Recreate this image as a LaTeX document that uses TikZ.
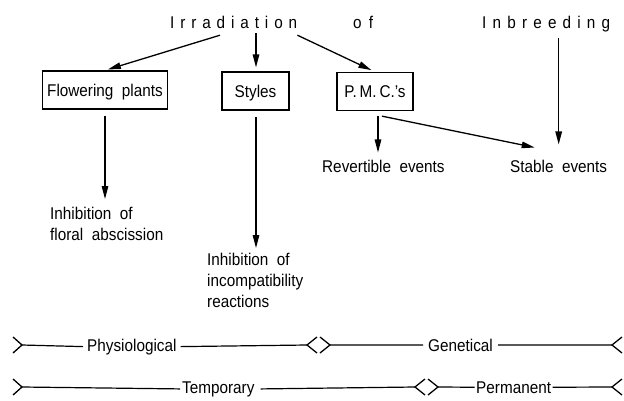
\documentclass[tikz,border=0pt]{standalone}
\usepackage{fontspec}
\setmainfont{Liberation Sans}[FakeStretch=0.9]
\usetikzlibrary{arrows.meta}
\tikzset{
  txt/.style={font=\fontsize{17}{21}\selectfont, inner sep=0pt},
  spread/.style={txt, anchor=base west, text depth=0pt},
  boxn/.style={txt, draw, line width=1.3pt, minimum height=38pt, text height=12pt, text depth=0pt},
  arr/.style={-{Triangle[length=13pt,width=6.5pt]}, line width=1.3pt},
  bar/.style={line width=1.2pt},
  chev/.style={line width=1.3pt, line join=miter},
  lineword/.style={txt, anchor=base west, inner xsep=4pt}
}
\begin{document}
\begin{tikzpicture}[x=1pt,y=-1pt]
\useasboundingbox (0,0) rectangle (624,400);

% top labels
\node[spread] (irr) at (170,28) {\makebox[127pt][s]{I r r a d i a t i o n}};
\node[spread] (of)  at (353,28) {\makebox[20pt][s]{o f}};
\node[spread] (inb) at (482,28) {\makebox[128pt][s]{I n b r e e d i n g}};

% boxes
\node[boxn, minimum width=125pt] (fp)  at (105,90)   {Flowering\ \ plants};
\node[boxn, minimum width=67pt]  (sty) at (255.5,91) {Styles};
\node[boxn, minimum width=76pt]  (pmc) at (375,91.5) {P.\,M.\,C.\textquoteright s};

% result labels
\node[txt, anchor=north west, align=left] (inh1) at (50,207) {Inhibition\ \ of\\floral\ \ abscission};
\node[txt, anchor=north west, align=left] (inh2) at (207,253) {Inhibition\ \ of\\incompatibility\\reactions};
\node[txt, anchor=base west] (rev)  at (322,172) {Revertible\ \ events};
\node[txt, anchor=base west] (stab) at (510,172) {Stable\ \ events};

% arrows
\draw[arr, shorten >=3pt] ([shift={(50,7)}]irr.south west) -- (fp.north);
\draw[arr, shorten >=4pt] ([shift={(86,5)}]irr.south west) -- ([xshift=0.5pt]sty.north);
\draw[arr, shorten >=4pt] ([shift={(0,7)}]irr.south east) -- (pmc.north);
\draw[arr, shorten <=6pt, shorten >=8pt] (fp.south) -- (fp.south |- inh1.north);
\draw[arr, shorten <=6pt, shorten >=5pt] ([xshift=0.5pt]sty.south) -- ([xshift=0.5pt]sty.south |- inh2.north);
\draw[arr, shorten <=5pt, shorten >=7pt] ([xshift=3pt]pmc.south) -- ([xshift=3pt]pmc.south |- rev.north);
\draw[arr] ([shift={(7,5)}]pmc.south) -- ([shift={(-24,-12)}]stab.north);
\draw[arr, shorten <=10pt, shorten >=15pt] (inb.south -| stab.north) -- (stab.north);

% bottom scale lines
\coordinate (a1) at (22,345);
\coordinate (m1l) at (307,345);
\coordinate (m1r) at (330,345);
\coordinate (e1) at (612,345);
\node[lineword] (phys) at (83,351) {Physiological};
\node[lineword, inner xsep=5pt] (gen) at (423,351) {Genetical};
\draw[bar] (a1) -- (phys.west) (phys.east) -- (m1l) (m1r) -- (gen.west) (gen.east) -- (e1);
\draw[chev] ([shift={(-9,-8)}]a1) -- (a1) -- ([shift={(-9,8)}]a1);
\draw[chev] ([shift={(10,-8)}]m1l) -- (m1l) -- ([shift={(10,8)}]m1l);
\draw[chev] ([shift={(-10,-8)}]m1r) -- (m1r) -- ([shift={(-10,8)}]m1r);
\draw[chev] ([shift={(10,-8)}]e1) -- (e1) -- ([shift={(10,8)}]e1);

\coordinate (a2) at (22,387);
\coordinate (m2l) at (415,387);
\coordinate (m2r) at (438,387);
\coordinate (e2) at (612,387);
\node[lineword, inner xsep=2pt] (temp) at (180,393) {Temporary};
\node[lineword, inner xsep=1.5pt] (perm) at (474.5,393) {Permanent};
\draw[bar] (a2) -- (temp.west) ([xshift=4pt]temp.east) -- (m2l) (m2r) -- (perm.west) (perm.east) -- (e2);
\draw[chev] ([shift={(-9,-8)}]a2) -- (a2) -- ([shift={(-9,8)}]a2);
\draw[chev] ([shift={(10,-8)}]m2l) -- (m2l) -- ([shift={(10,8)}]m2l);
\draw[chev] ([shift={(-10,-8)}]m2r) -- (m2r) -- ([shift={(-10,8)}]m2r);
\draw[chev] ([shift={(10,-8)}]e2) -- (e2) -- ([shift={(10,8)}]e2);
\end{tikzpicture}
\end{document}
